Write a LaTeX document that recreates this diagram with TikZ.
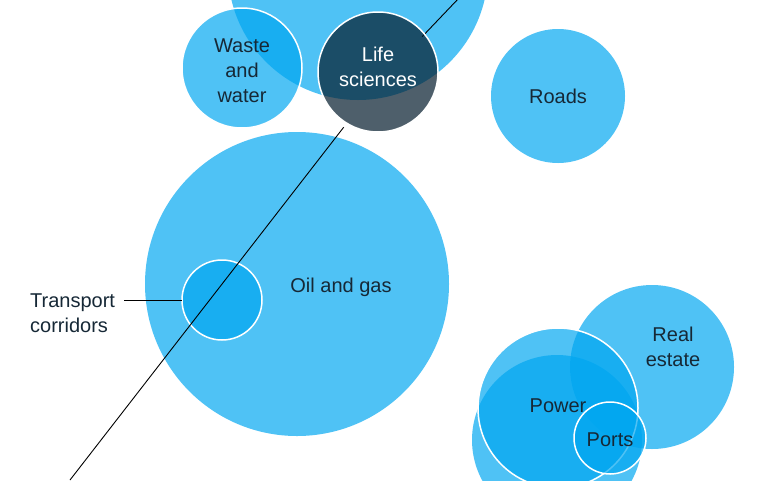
\documentclass[tikz,border=0pt]{standalone}
\usepackage{fontspec}
\setmainfont{Liberation Sans}
\definecolor{bubblecolor}{RGB}{0,166,240}
\definecolor{darkcolor}{RGB}{6,30,46}
\definecolor{labelcolor}{RGB}{22,40,54}
\tikzset{
  bubble/.style={fill=bubblecolor, fill opacity=0.69, draw=none},
  ringed/.style={bubble, draw=white, draw opacity=1, line width=1.5pt},
  label/.style={text=labelcolor, align=center, font=\fontsize{20}{25}\selectfont, inner sep=0pt}
}
\begin{document}
\begin{tikzpicture}[x=1pt,y=-1pt]
\useasboundingbox (0,0) rectangle (767,480);
% bubbles
\fill[bubble] (358,-30) circle (130);
\draw[ringed] (242,68) circle (60);
\fill[bubble] (558,96) circle (67);
\fill[bubble] (297,284) circle (152);
\draw[ringed] (222,300) circle (40);
\fill[bubble] (652,367) circle (82);
\fill[bubble] (557,440) circle (85);
\draw[ringed] (558,408) circle (80);
\draw[ringed] (610,438) circle (36);
% axis line, hidden under the dark bubble
\coordinate (lowend) at (70,480);
\coordinate (bend) at (378,83);
\coordinate (topend) at (459,-2);
\draw[black, line width=0.9pt, shorten >=56pt] (lowend) -- (bend);
\draw[black, line width=0.9pt, shorten <=64pt] (bend) -- (topend);
\draw[fill=darkcolor, fill opacity=0.71, draw=white, line width=1.5pt] (378,72) circle (60);
% labels
\node[label] (waste) at (242,71) {Waste\\and\\water};
\node[label, text=white] (life) at (378,67) {Life\\sciences};
\node[label] (roads) at (558,96) {Roads};
\node[label] (oil) at (341,287) {Oil and gas};
\node[label, anchor=west, align=left] (transport) at (30,313) {Transport\\corridors};
\node[label] (real) at (673,347) {Real\\estate};
\node[label] (power) at (558,406) {Power};
\node[label] (ports) at (610,440) {Ports};
\coordinate (corridor) at (182,300);
\draw[black, line width=0.6pt] (124,300) -- (corridor);
\end{tikzpicture}
\end{document}
